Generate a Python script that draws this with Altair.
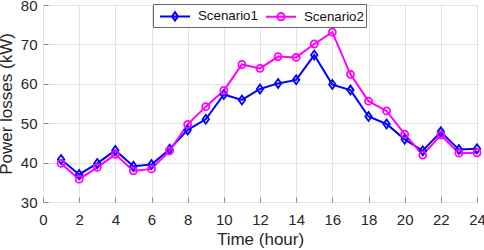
import altair as alt
import pandas as pd

hours = list(range(1, 25))
scenario1 = [40.8, 37.0, 39.8, 43.1, 39.1, 39.5, 43.4, 48.3, 51.0, 57.3, 55.9, 58.7,
             60.1, 61.0, 67.3, 59.8, 58.4, 51.7, 49.8, 45.9, 43.0, 47.8, 43.3, 43.5]
scenario2 = [39.8, 35.8, 38.8, 42.1, 37.9, 38.4, 43.0, 49.7, 54.2, 58.3, 64.9, 63.9,
             66.9, 66.7, 70.1, 73.1, 62.4, 55.6, 53.1, 47.2, 41.9, 47.0, 42.4, 42.5]
series_names = ["Scenario1", "Scenario2"]
series_colors = ["#0000FF", "#FF00FF"]

df = pd.DataFrame({
    "hour": hours * 2,
    "loss": scenario1 + scenario2,
    "series": [series_names[0]] * len(hours) + [series_names[1]] * len(hours),
})

FONT = "Liberation Sans"
TXT = "#262626"
GRID = "#e3e3e3"
FRAME = "#8a8a8a"

x = alt.X("hour:Q", title="Time (hour)",
          scale=alt.Scale(domain=[0, 24], nice=False),
          axis=alt.Axis(values=list(range(0, 25, 2)), ticks=True, tickSize=5,
                        tickColor=FRAME, offset=-5, domain=False, labelPadding=10,
                        titlePadding=4, labelFontSize=15, titleFontSize=17,
                        titleFontWeight="normal",
                        labelFont=FONT, titleFont=FONT, labelColor=TXT,
                        titleColor=TXT, gridColor=GRID,
                        labelFlush=False))
y = alt.Y("loss:Q", title="Power losses (kW)",
          scale=alt.Scale(domain=[30, 80], nice=False),
          axis=alt.Axis(values=list(range(30, 81, 10)), ticks=True, tickSize=5,
                        tickColor=FRAME, offset=-5, domain=False, labelPadding=6,
                        titlePadding=5, labelFontSize=15, titleFontSize=17,
                        titleFontWeight="normal",
                        labelFont=FONT, titleFont=FONT, labelColor=TXT,
                        titleColor=TXT, gridColor=GRID,
                        labelFlush=False))

leg_diamond = "M-1.667,0H1.667M0,-0.47L0.33,0L0,0.47L-0.33,0Z"
leg_circle = "M-1.667,0H1.667M0.4,0A0.4,0.4 0 1 1 -0.4,0A0.4,0.4 0 1 1 0.4,0"
legend_props = dict(orient="none", legendX=110, legendY=-1,
                    direction="horizontal", symbolOpacity=1,
                    symbolSize=324, symbolStrokeWidth=2,
                    labelFontSize=13.3, labelFont=FONT, labelColor="#111",
                    fillColor="white", strokeColor="#666",
                    padding=2, columnPadding=3, symbolOffset=10, labelOffset=13)

color = alt.Color("series:N", title=None,
                  scale=alt.Scale(domain=series_names, range=series_colors),
                  legend=alt.Legend(**legend_props))
shape = alt.Shape("series:N", title=None,
                  scale=alt.Scale(domain=series_names, range=[leg_diamond, leg_circle]),
                  legend=alt.Legend(**legend_props))

base = alt.Chart(df)

lines = base.mark_line(strokeWidth=2).encode(x=x, y=y, color=color, detail="series:N")

diamond = "M0,-1L0.72,0L0,1L-0.72,0Z"
pts1 = base.transform_filter(alt.datum.series == series_names[0]).mark_point(
    filled=False, strokeWidth=1.8, opacity=1, shape=diamond, size=80).encode(x=x, y=y, color=color)
pts2 = base.transform_filter(alt.datum.series == series_names[1]).mark_point(
    filled=False, strokeWidth=1.8, opacity=1, shape="circle", size=50).encode(x=x, y=y, color=color)

legend_layer = base.mark_point(filled=False, opacity=0, strokeWidth=2).encode(
    x=x, y=y, color=color, shape=shape,
)

chart = alt.layer(lines, pts1, pts2, legend_layer).properties(
    width=434, height=197,
    autosize=alt.AutoSizeParams(type="none"),
    padding={"left": 43, "top": 5, "right": 7, "bottom": 48},
).configure_view(stroke=FRAME, strokeWidth=1).configure(background="white")

chart.save("out.html", embed_options={"renderer": "svg", "actions": False})
